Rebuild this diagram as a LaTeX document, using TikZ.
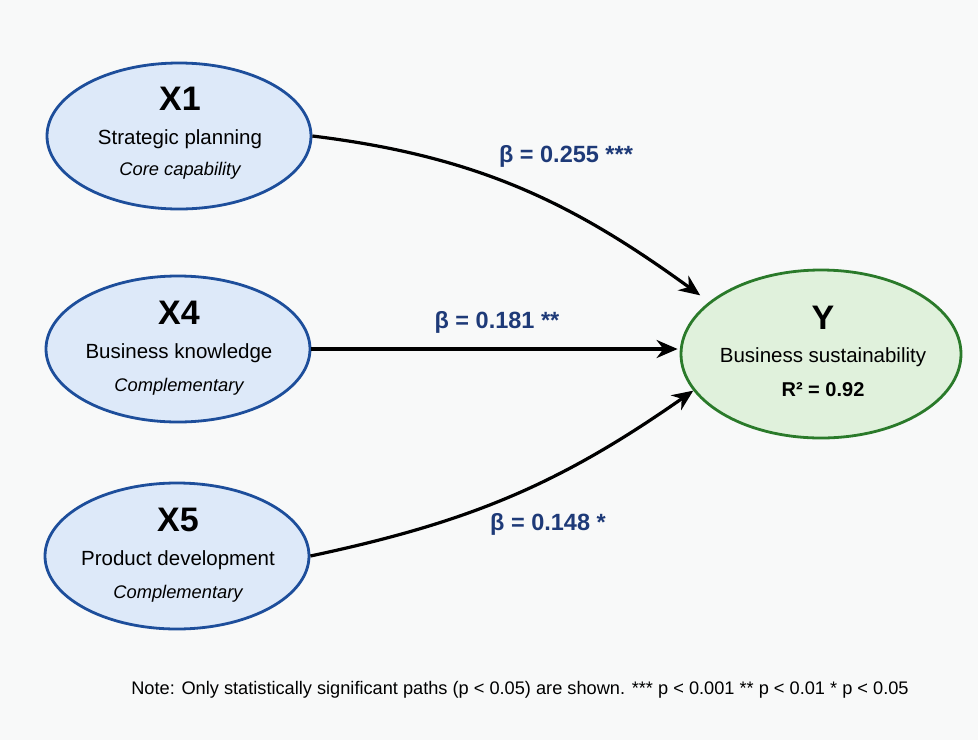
\documentclass[tikz,border=0pt]{standalone}
\usepackage{fontspec}
\setmainfont{Liberation Sans}
\usetikzlibrary{shapes.geometric,arrows.meta}
\definecolor{bgc}{HTML}{F8F9F9}
\definecolor{xfill}{HTML}{DDE9F9}
\definecolor{xdraw}{HTML}{1D4E9B}
\definecolor{yfill}{HTML}{E0F1DC}
\definecolor{ydraw}{HTML}{2A7A2A}
\definecolor{betac}{HTML}{1E3A78}
\tikzset{
  xell/.style={ellipse, draw=xdraw, fill=xfill, line width=2.8pt, minimum width=264pt, minimum height=146pt, inner sep=0pt},
  yell/.style={ellipse, draw=ydraw, fill=yfill, line width=2.8pt, minimum width=280pt, minimum height=168pt, inner sep=0pt},
  head/.style={font=\fontsize{34}{40}\selectfont\bfseries, inner sep=0pt},
  sub/.style={font=\fontsize{20.5}{24}\selectfont, inner sep=0pt},
  tag/.style={font=\fontsize{18.3}{22}\selectfont\itshape, inner sep=0pt},
  betal/.style={font=\fontsize{23.5}{28}\selectfont\bfseries, text=betac, inner sep=0pt},
  path/.style={line width=3.2pt, -{Stealth[length=21pt,width=18pt]}},
}
\begin{document}
\begin{tikzpicture}[x=1pt,y=-1pt]
\fill[bgc] (0,0) rectangle (978,740);
\useasboundingbox (0,0) rectangle (978,740);
% ellipses
\node[xell] (x1) at (179,136) {};
\node[xell] (x4) at (178,349) {};
\node[xell] (x5) at (177,556) {};
\node[yell] (y) at (821,354) {};
% texts
\node[head] (x1h) at (180,99) {X1};
\node[sub] (x1s) at (180,139) {Strategic planning};
\node[tag] (x1t) at (180,171) {Core capability};
\node[head] (x4h) at (179,313) {X4};
\node[sub] (x4s) at (179,353) {Business knowledge};
\node[tag] (x4t) at (179,387) {Complementary};
\node[head] (x5h) at (178,520) {X5};
\node[sub] (x5s) at (178,560) {Product development};
\node[tag] (x5t) at (178,594) {Complementary};
\node[head] (yh) at (823,318) {Y};
\node[sub] (ys) at (823,357) {Business sustainability};
\node[font=\fontsize{20}{24}\selectfont\bfseries, inner sep=0pt] (yr) at (823,390) {R² = 0.92};
% paths
\draw[path, shorten >=11pt] (x1.east) to[out=-7, in=144] (y.155);
\draw[path, shorten >=2pt] (x4.east) -- (x4.east -| y.west);
\draw[path] (x5.east) to[out=12, in=-145] (y.196);
% labels
\node[betal] (b1) at (566,156) {β = 0.255 ***};
\node[betal] (b4) at (497,322) {β = 0.181 **};
\node[betal] (b5) at (548,524) {β = 0.148 *};
% note
\node[font=\fontsize{18.2}{22}\selectfont, inner sep=0pt] (note) at (520,690) {Note: Only statistically significant paths (p < 0.05) are shown. *** p < 0.001 ** p < 0.01 * p < 0.05};
\end{tikzpicture}
\end{document}
